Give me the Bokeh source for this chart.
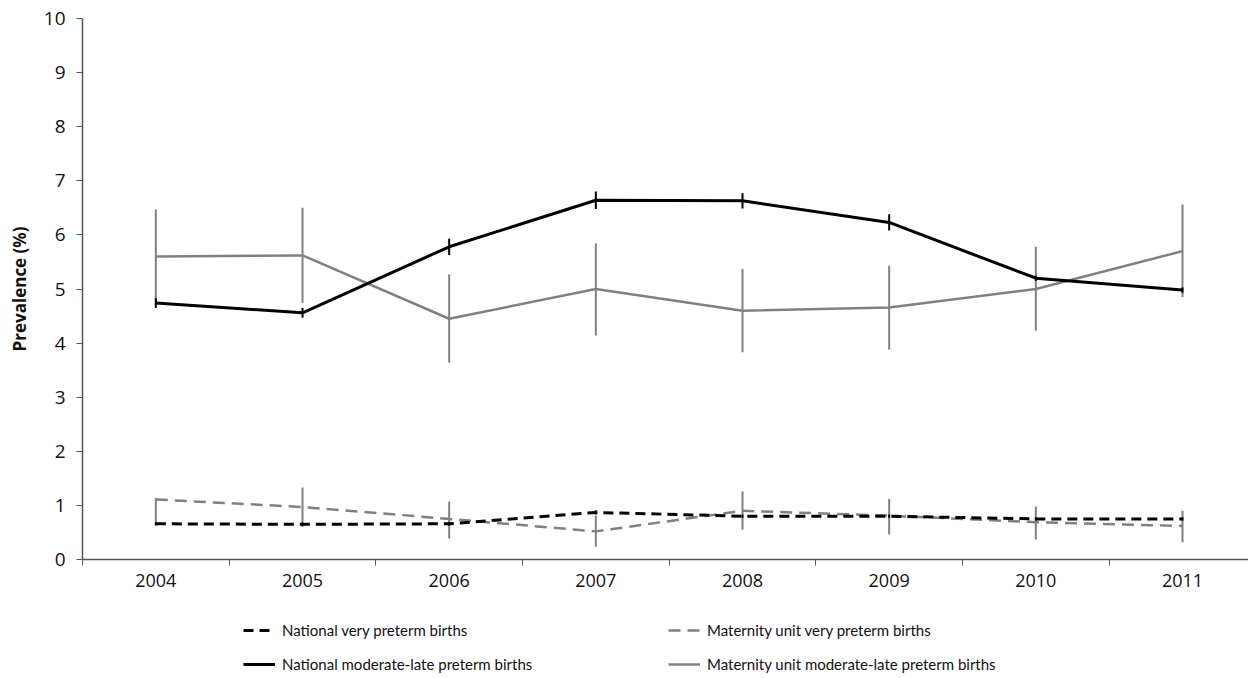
from bokeh.plotting import figure
from bokeh.models import Legend, LegendItem, FixedTicker, Range1d
from bokeh.layouts import column
from bokeh.embed import file_html
from bokeh.resources import INLINE

years = [2004, 2005, 2006, 2007, 2008, 2009, 2010, 2011]

nat_very = [0.66, 0.65, 0.66, 0.87, 0.80, 0.80, 0.75, 0.75]
nat_very_lo = [0.63, 0.62, 0.63, 0.83, 0.77, 0.77, 0.72, 0.72]
nat_very_hi = [0.69, 0.68, 0.69, 0.91, 0.83, 0.83, 0.78, 0.78]

mu_very = [1.11, 0.97, 0.75, 0.52, 0.90, 0.81, 0.69, 0.62]
mu_very_lo = [0.66, 0.60, 0.39, 0.24, 0.55, 0.46, 0.37, 0.32]
mu_very_hi = [1.13, 1.33, 1.07, 0.81, 1.26, 1.12, 0.98, 0.90]

nat_mod = [4.74, 4.56, 5.78, 6.64, 6.63, 6.23, 5.20, 4.98]
nat_mod_lo = [4.65, 4.47, 5.63, 6.48, 6.49, 6.08, 5.15, 4.93]
nat_mod_hi = [4.83, 4.65, 5.93, 6.80, 6.77, 6.38, 5.25, 5.03]

mu_mod = [5.60, 5.62, 4.45, 5.00, 4.60, 4.66, 5.00, 5.70]
mu_mod_lo = [4.73, 4.74, 3.64, 4.14, 3.83, 3.88, 4.23, 4.85]
mu_mod_hi = [6.47, 6.50, 5.27, 5.84, 5.37, 5.43, 5.78, 6.56]

ylabels = list(range(0, 11))
boundaries = [y + 0.5 for y in years[:-1]] + [2003.5]

series_labels = [
    "National very preterm births",
    "Maternity unit very preterm births",
    "National moderate-late preterm births",
    "Maternity unit moderate-late preterm births",
]
series_values = [nat_very, mu_very, nat_mod, mu_mod]

FONT = "Open Sans"
LEG_FONT = "Lato"
BLACK = "#000000"
GREY = "#808080"
styles = [
    dict(line_color=BLACK, line_width=3, line_dash="10 6"),
    dict(line_color=GREY, line_width=2.5, line_dash="12 7"),
    dict(line_color=BLACK, line_width=3),
    dict(line_color=GREY, line_width=2.5),
]

p = figure(width=1248, height=620, output_backend="svg", toolbar_location=None,
           x_range=Range1d(2003.5, 2011.45), y_range=Range1d(0, 10),
           min_border_left=82, min_border_right=0, min_border_top=18,
           min_border_bottom=61)
p.outline_line_color = None
p.grid.grid_line_color = None

# x axis
p.xaxis.ticker = FixedTicker(ticks=years, minor_ticks=boundaries)
p.xaxis.major_tick_out = 0
p.xaxis.major_tick_in = 0
p.xaxis.minor_tick_out = 6
p.xaxis.minor_tick_in = 0
p.xaxis.minor_tick_line_color = "#555555"
p.xaxis.axis_line_color = "#555555"
p.xaxis.axis_line_width = 1.5
p.xaxis.major_label_text_font = FONT
p.xaxis.major_label_text_font_size = "18px"
p.xaxis.major_label_text_color = "#111111"
p.xaxis.major_label_standoff = 8

# y axis
p.yaxis.ticker = FixedTicker(ticks=ylabels)
p.yaxis.major_tick_out = 6
p.yaxis.major_tick_in = 0
p.yaxis.minor_tick_line_color = None
p.yaxis.axis_line_color = "#555555"
p.yaxis.axis_line_width = 1.5
p.yaxis.major_tick_line_color = "#555555"
p.yaxis.major_label_text_font = FONT
p.yaxis.major_label_text_font_size = "19px"
p.yaxis.major_label_text_color = "#111111"
p.yaxis.major_label_standoff = 11
p.yaxis.axis_label = "Prevalence (%)"
p.yaxis.axis_label_text_font = FONT
p.yaxis.axis_label_text_font_size = "17px"
p.yaxis.axis_label_text_font_style = "bold"
p.yaxis.axis_label_text_color = "#111111"
p.yaxis.axis_label_standoff = 10

# error bars
p.segment(years, mu_mod_lo, years, mu_mod_hi, line_color=GREY, line_width=2)
p.segment(years, mu_very_lo, years, mu_very_hi, line_color=GREY, line_width=2)
p.segment(years, nat_mod_lo, years, nat_mod_hi, line_color=BLACK, line_width=2)
p.segment(years, nat_very_lo, years, nat_very_hi, line_color=BLACK, line_width=2)

# lines
p.line(years, mu_very, **styles[1])
p.line(years, nat_very, **styles[0])
p.line(years, mu_mod, **styles[3])
p.line(years, nat_mod, **styles[2])

# legend strip (series drawn outside its visible range, only legend shows)
q = figure(width=1248, height=58, output_backend="svg", toolbar_location=None,
           x_range=Range1d(0, 1), y_range=Range1d(0, 1),
           min_border_left=0, min_border_right=0, min_border_top=0,
           min_border_bottom=0)
q.axis.visible = False
q.grid.visible = False
q.outline_line_color = None
rends = [q.line(years, vals, **s) for vals, s in zip(series_values, styles)]


def make_legend(idx, loc):
    lg = Legend(items=[LegendItem(label=series_labels[i], renderers=[rends[i]]) for i in idx],
                orientation="vertical", location=loc)
    lg.label_text_font = LEG_FONT
    lg.label_text_font_size = "15px"
    lg.label_text_color = "#111111"
    lg.glyph_width = 32
    lg.glyph_height = 20
    lg.label_standoff = 7
    lg.spacing = 14
    lg.label_height = 20
    lg.border_line_color = None
    lg.background_fill_alpha = 0
    lg.padding = 0
    lg.margin = 0
    return lg


q.add_layout(make_legend([0, 2], (161, 4)), "center")
q.add_layout(make_legend([1, 3], (586, 4)), "center")

open("out.html", "w").write(file_html(column(p, q, spacing=0), INLINE))
